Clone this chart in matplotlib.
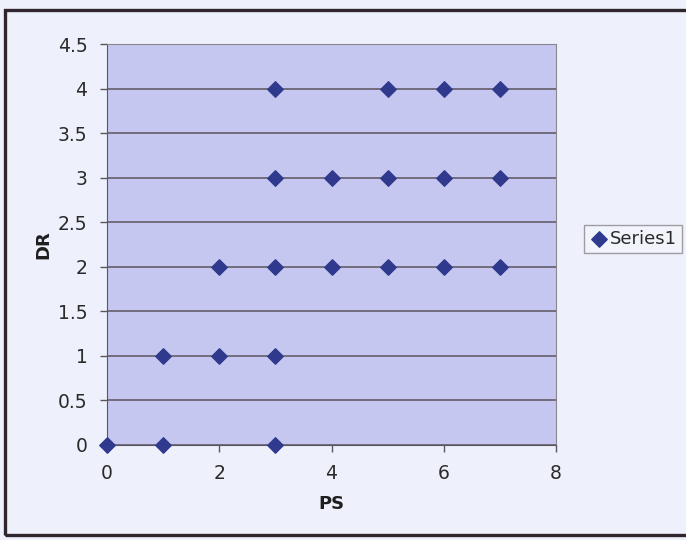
import matplotlib
matplotlib.use("Agg")
import matplotlib.pyplot as plt
from matplotlib.patches import Rectangle

# data
ps = [0, 1, 3, 1, 2, 3, 2, 3, 4, 5, 6, 7, 3, 4, 5, 6, 7, 3, 5, 6, 7]
dr = [0, 0, 0, 1, 1, 1, 2, 2, 2, 2, 2, 2, 3, 3, 3, 3, 3, 4, 4, 4, 4]
x_ticks = [0, 2, 4, 6, 8]
y_ticks = [0, 0.5, 1, 1.5, 2, 2.5, 3, 3.5, 4, 4.5]

fig = plt.figure(figsize=(6.86, 5.4), dpi=100)
fig.patch.set_facecolor('#eef1fb')

# outer chart frame (runs off the right side of the scan)
fig.patches.append(Rectangle((5/686, 1-535/540), 1.0, (535-10)/540,
                             transform=fig.transFigure, fill=False,
                             edgecolor='#2e262c', lw=2.4))

ax = fig.add_axes([107/686, 1-445/540, (556-107)/686, (445-44)/540])
ax.set_facecolor('#c5c7f1')
ax.scatter(ps, dr, marker='D', s=62, color='#2f3a8e', zorder=3,
           clip_on=False, label='Series1')

ax.set_xlim(0, 8)
ax.set_ylim(0, 4.5)
ax.set_xticks(x_ticks)
ax.set_yticks(y_ticks)
ax.set_yticklabels(['0', '0.5', '1', '1.5', '2', '2.5', '3', '3.5', '4', '4.5'])
ax.yaxis.grid(True, color='#5b5560', lw=1.1)
ax.set_axisbelow(True)
for s in ['top', 'right']:
    ax.spines[s].set_color('#8a8690')
for s in ['left', 'bottom']:
    ax.spines[s].set_color('#5b5560')
ax.tick_params(axis='both', colors='#5b5560', labelcolor='#2a2a2a',
               labelsize=13.5, length=5, width=1)
ax.tick_params(axis='x', pad=9)
ax.tick_params(axis='y', pad=9)

ax.set_xlabel('PS', fontsize=13, fontweight='bold', color='#1e1e1e', labelpad=8)
ax.set_ylabel('DR', fontsize=13, fontweight='bold', color='#1e1e1e', labelpad=4)

leg = fig.legend(loc='center', bbox_to_anchor=(633/686, 1-239/540), fontsize=13,
                 frameon=True, fancybox=False, handletextpad=0.1,
                 handlelength=1.0, borderpad=0.3, markerscale=1.0)
leg.get_frame().set_edgecolor('#8a8690')
leg.get_frame().set_facecolor('#f3f5fc')
for t in leg.get_texts():
    t.set_color('#2a2a2a')

fig.savefig('out.png', dpi=100, facecolor=fig.get_facecolor())
